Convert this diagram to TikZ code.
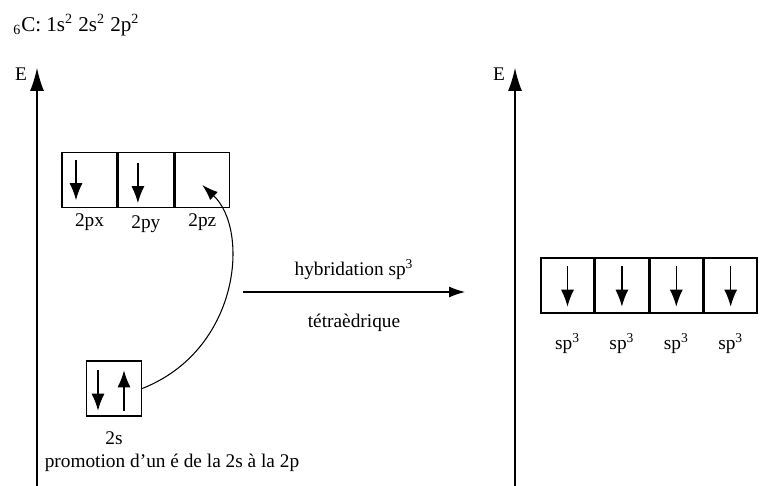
\documentclass[tikz,border=0pt]{standalone}
\usepackage{fontspec}
\setmainfont{Liberation Serif}
\usetikzlibrary{arrows.meta, positioning}
\tikzset{
  orb/.style={draw=black, rectangle, inner sep=0pt, minimum width=1.1cm, minimum height=1.1cm, thick},
  hyb/.style={orb, minimum width=1.06cm},
  lbl/.style={font=\fontsize{11}{13}\selectfont, inner sep=1pt},
  spin/.style={-{Latex[length=3.4mm, width=2.6mm]}, thick},
  axis/.style={-{Latex[length=4.6mm, width=2.8mm]}, semithick},
  arrow/.style={-{Latex[length=3.2mm, width=2.2mm]}, semithick}
}

\begin{document}
\begin{tikzpicture}[x=0.02cm, y=-0.02cm]
\useasboundingbox (0,0) rectangle (763,486);

% configuration
\node[anchor=west, inner sep=0pt, font=\fontsize{12}{14}\selectfont] (conf) at (13,25) {\textsubscript{6}C: 1s\textsuperscript{2} 2s\textsuperscript{2} 2p\textsuperscript{2}};

% energy axes
\coordinate (Lbot) at (37,486);
\coordinate (Ltop) at (37,68);
\coordinate (Rbot) at (515,486);
\coordinate (Rtop) at (515,68);
\draw[axis] (Lbot) -- (Ltop);
\draw[axis] (Rbot) -- (Rtop);
\node[lbl] (EL) at (21,74) {E};
\node[lbl] (ER) at (499,74) {E};

% 2p level
\node[orb] (px) at (89.5,180) {};
\node[orb, right=0pt of px] (py) {};
\node[orb, right=0pt of py] (pz) {};
\node[lbl, below=2pt of px] (lpx) {2px};
\node[lbl, below=3pt of py] (lpy) {2py};
\node[lbl, below=2pt of pz] (lpz) {2pz};
\draw[spin] ([xshift=-0.27cm, yshift=-0.16cm]px.north) -- ([xshift=-0.27cm, yshift=0.16cm]px.south);
\draw[spin] ([xshift=-0.16cm, yshift=-0.22cm]py.north) -- ([xshift=-0.16cm, yshift=0.1cm]py.south);

% 2s level
\node[orb] (s2) at (114,388.5) {};
\node[lbl, below=0.26cm of s2] (ls2) {2s};
\node[lbl, below=0.1cm of ls2, xshift=1.16cm] (promo) {promotion d'un é de la 2s à la 2p};
\draw[spin] ([xshift=-0.32cm, yshift=-0.2cm]s2.north) -- ([xshift=-0.32cm, yshift=0.12cm]s2.south);
\draw[spin] ([xshift=0.2cm, yshift=0.12cm]s2.south) -- ([xshift=0.2cm, yshift=-0.2cm]s2.north);

% promotion
\draw[arrow] (s2.east) .. controls (240,350) and (250,230) .. ([yshift=-0.1cm]pz.center);

% hybridation
\coordinate (hA) at (243,292);
\coordinate (hB) at (465,292);
\draw[arrow] (hA) -- (hB)
  node[lbl, midway, above=0.2cm] (hyblbl) {hybridation sp\textsuperscript{3}}
  node[lbl, midway, below=0.4cm] (tetra) {tétraèdrique};

% sp3 level
\node[hyb] (h1) at (567.5,285.5) {};
\node[hyb, right=0pt of h1] (h2) {};
\node[hyb, right=0pt of h2] (h3) {};
\node[hyb, right=0pt of h3] (h4) {};
\foreach \i in {1,...,4} {
  \draw[spin] ([yshift=-0.18cm]h\i.north) -- ([yshift=0.14cm]h\i.south);
  \node[lbl, below=0.36cm of h\i] (l\i) {sp\textsuperscript{3}};
}

\end{tikzpicture}
\end{document}
